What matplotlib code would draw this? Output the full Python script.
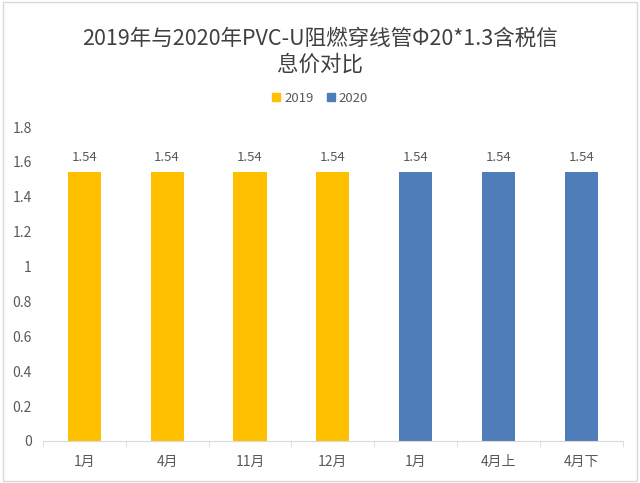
import numpy as np
import matplotlib.pyplot as plt
from matplotlib.patches import Patch

plt.rcParams['font.family'] = ['Noto Sans CJK SC', 'DejaVu Sans']

# data
categories = ['1月', '4月', '11月', '12月', '1月', '4月上', '4月下']
values = [1.54, 1.54, 1.54, 1.54, 1.54, 1.54, 1.54]
years = ['2019', '2019', '2019', '2019', '2020', '2020', '2020']
yticks = [0, 0.2, 0.4, 0.6, 0.8, 1, 1.2, 1.4, 1.6, 1.8]

colors = {'2019': '#FFC000', '2020': '#4E7DBA'}
text_color = '#595959'

fig = plt.figure(figsize=(6.4, 4.83), dpi=100)
ax = fig.add_axes([0.067, 0.087, 0.906, 0.65])

x = np.arange(len(categories))
bars = ax.bar(x, values, width=0.4, color=[colors[y] for y in years])

for xi, v in zip(x, values):
    ax.text(xi, v + 0.05, f'{v:.2f}', ha='center', va='bottom',
            fontsize=9.5, color=text_color)

ax.set_xlim(-0.5, len(categories) - 0.5)
ax.set_ylim(0, 1.8)
ax.set_yticks(yticks)
ax.set_yticklabels([f'{t:g}' for t in yticks])
ax.set_xticks(x)
ax.set_xticklabels(categories)
ax.set_xticks(np.arange(-0.5, len(categories)), minor=True)

for s in ['top', 'right', 'left']:
    ax.spines[s].set_visible(False)
ax.spines['bottom'].set_color('#D9D9D9')
ax.tick_params(axis='y', length=0, labelsize=10, labelcolor=text_color, pad=8)
ax.tick_params(axis='x', which='major', length=0, labelsize=10,
               labelcolor=text_color, pad=10)
ax.tick_params(axis='x', which='minor', length=4, color='#D9D9D9')

fig.text(0.5, 0.893, '2019年与2020年PVC-U阻燃穿线管Φ20*1.3含税信\n息价对比',
         ha='center', va='center', fontsize=15.5, color='#404040', linespacing=1.2)

handles = [Patch(color=colors['2019'], label='2019'),
           Patch(color=colors['2020'], label='2020')]
fig.legend(handles=handles, loc='center', bbox_to_anchor=(0.5, 0.797), ncol=2,
           frameon=False, fontsize=9.5, handlelength=0.6, handleheight=0.6,
           handletextpad=0.3, columnspacing=1.0, labelcolor=text_color)

# light border around the chart
fig.patches.append(plt.Rectangle((0.005, 0.005), 0.99, 0.99, transform=fig.transFigure,
                                 fill=False, edgecolor='#D9D9D9', linewidth=1))

fig.savefig('out.png', dpi=100)
